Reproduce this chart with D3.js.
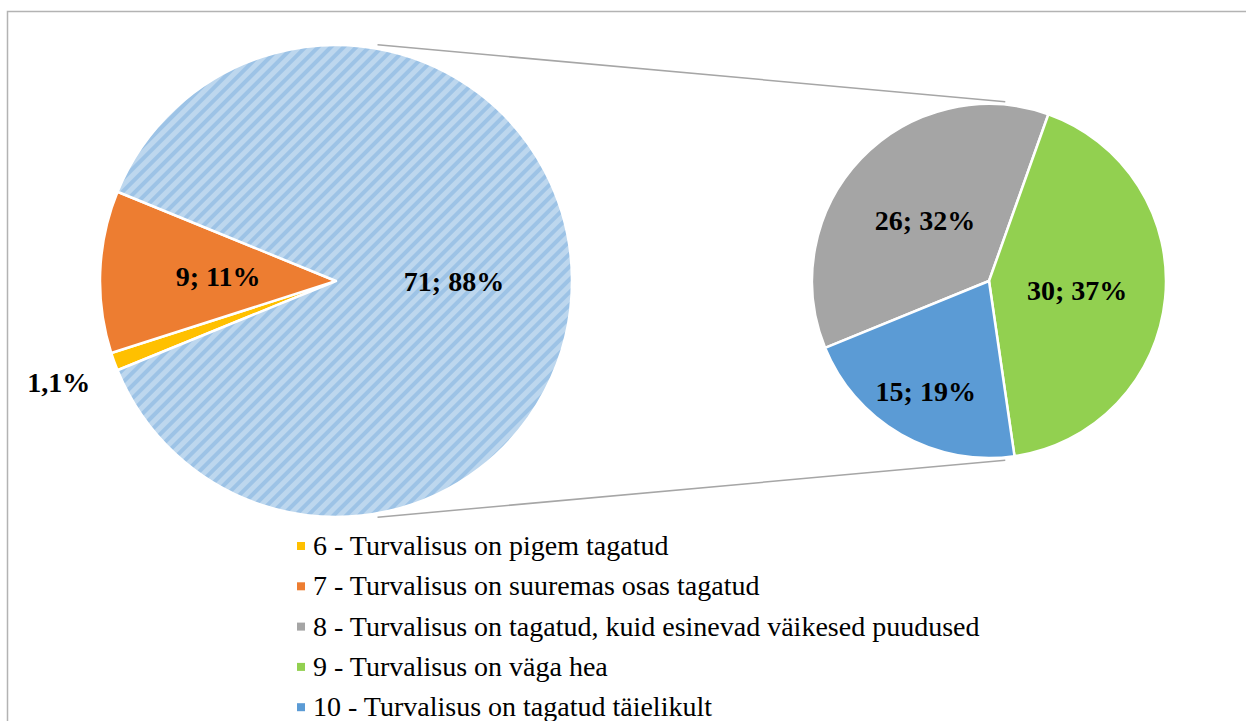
<!DOCTYPE html>
<meta charset="utf-8">
<style>
body { margin: 0; background: #fff; }
.lbl { font-weight: bold; font-size: 28px; fill: #000; }
.leg { font-size: 28px; fill: #000; }
</style>
<body>
<script src="https://cdn.jsdelivr.net/npm/d3@7"></script>
<script>

// main pie: 6, 7 and the "other" group (8+9+10)
var mainNames = ["6 - Turvalisus on pigem tagatud", "7 - Turvalisus on suuremas osas tagatud", "other"];
var mainValues = [1, 9, 71];
var mainColors = ["#FFC000", "#ED7D31", "hatch"];

// secondary pie: breakdown of "other"
var subNames = ["8 - Turvalisus on tagatud, kuid esinevad väikesed puudused", "9 - Turvalisus on väga hea", "10 - Turvalisus on tagatud täielikult"];
var subValues = [26, 30, 15];
var subColors = ["#A5A5A5", "#92D050", "#5B9BD5"];

var legendNames = [mainNames[0], mainNames[1]].concat(subNames);
var legendColors = [mainColors[0], mainColors[1]].concat(subColors);

var width = 1246, height = 721;
var total = d3.sum(mainValues);
var serif = "'Liberation Serif', 'Times New Roman', Tinos, 'DejaVu Serif', serif";

var svg = d3.select("body").append("svg")
    .attr("width", width)
    .attr("height", height)
    .attr("font-family", serif);

// frame
svg.append("rect")
    .attr("x", 7.5).attr("y", 11.5)
    .attr("width", width + 10).attr("height", height + 10)
    .attr("fill", "none")
    .attr("stroke", "#b3b3b3")
    .attr("stroke-width", 1.5);

// hatch pattern for the "other" slice
var pat = svg.append("defs").append("pattern")
    .attr("id", "hatch")
    .attr("patternUnits", "userSpaceOnUse")
    .attr("width", 9).attr("height", 9)
    .attr("patternTransform", "rotate(45)");
pat.append("rect").attr("width", 9).attr("height", 9).attr("fill", "#BDD7EE");
pat.append("rect").attr("width", 4).attr("height", 9).attr("fill", "#9DC3E6");

var c1 = {x: 336, y: 281, r: 236},
    c2 = {x: 989, y: 281, r: 177};

// start so that the "other" slice is centred at 3 o'clock
var start = Math.PI / 2 - (mainValues[2] / total) * Math.PI - ((mainValues[0] + mainValues[1]) / total) * 2 * Math.PI;

var pie1 = d3.pie().sort(null).startAngle(start).endAngle(start + 2 * Math.PI);
var pie2 = d3.pie().sort(null).startAngle(start).endAngle(start + 2 * Math.PI);

var arc1 = d3.arc().innerRadius(0).outerRadius(c1.r);
var arc2 = d3.arc().innerRadius(0).outerRadius(c2.r);

// connector lines (outer tangents of the two circles)
var theta = Math.asin((c1.r - c2.r) / (c2.x - c1.x));
[-1, 1].forEach(function(s) {
  var gap = 3;
  var x1 = c1.x + (c1.r + gap) * Math.sin(theta),
      y1 = c1.y + s * (c1.r + gap) * Math.cos(theta),
      x2 = c2.x + (c2.r + gap) * Math.sin(theta),
      y2 = c2.y + s * (c2.r + gap) * Math.cos(theta);
  var trim = 20 / Math.hypot(x2 - x1, y2 - y1);
  svg.append("line")
      .attr("x1", x1 + (x2 - x1) * trim).attr("y1", y1 + (y2 - y1) * trim)
      .attr("x2", x2).attr("y2", y2)
      .attr("stroke", "#A6A6A6")
      .attr("stroke-width", 1.5);
});

var g1 = svg.append("g").attr("transform", "translate(" + c1.x + "," + c1.y + ")");
var g2 = svg.append("g").attr("transform", "translate(" + c2.x + "," + c2.y + ")");

var arcs1 = pie1(mainValues);
var arcs2 = pie2(subValues);

g1.selectAll("path").data(arcs1).enter().append("path")
    .attr("d", arc1)
    .attr("fill", function(d, i) { return mainColors[i] == "hatch" ? "url(#hatch)" : mainColors[i]; })
    .attr("stroke", "#fff")
    .attr("stroke-width", 2.5)
    .attr("stroke-linejoin", "round");

g2.selectAll("path").data(arcs2).enter().append("path")
    .attr("d", arc2)
    .attr("fill", function(d, i) { return subColors[i]; })
    .attr("stroke", "#fff")
    .attr("stroke-width", 2.5)
    .attr("stroke-linejoin", "round");

function labelText(v) {
  var p = Math.round(v / total * 100);
  return v < 2 ? v + "," + p + "%" : v + "; " + p + "%";
}

// label radius as fraction of the pie radius
var pos1 = [1.25, 0.5, 0.5];
var pos2 = [0.5, 0.5, 0.72];

g1.selectAll(".lbl").data(arcs1).enter().append("text")
    .attr("class", "lbl")
    .attr("text-anchor", "middle")
    .attr("dy", "0.35em")
    .attr("transform", function(d, i) {
      var r = c1.r * pos1[i];
      return "translate(" + d3.arc().innerRadius(r).outerRadius(r).centroid(d) + ")";
    })
    .text(function(d) { return labelText(d.value); });

g2.selectAll(".lbl").data(arcs2).enter().append("text")
    .attr("class", "lbl")
    .attr("text-anchor", "middle")
    .attr("dy", "0.35em")
    .attr("transform", function(d, i) {
      var r = c2.r * pos2[i];
      return "translate(" + d3.arc().innerRadius(r).outerRadius(r).centroid(d) + ")";
    })
    .text(function(d) { return labelText(d.value); });

// legend
var leg = svg.append("g").attr("transform", "translate(297,555)");
var row = leg.selectAll("g").data(legendNames).enter().append("g")
    .attr("transform", function(d, i) { return "translate(0," + (i * 40.3) + ")"; });
row.append("rect")
    .attr("x", 0).attr("y", -13)
    .attr("width", 8).attr("height", 8)
    .attr("fill", function(d, i) { return legendColors[i]; });
row.append("text")
    .attr("class", "leg")
    .attr("x", 16)
    .text(function(d) { return d; });

</script>
</body>
